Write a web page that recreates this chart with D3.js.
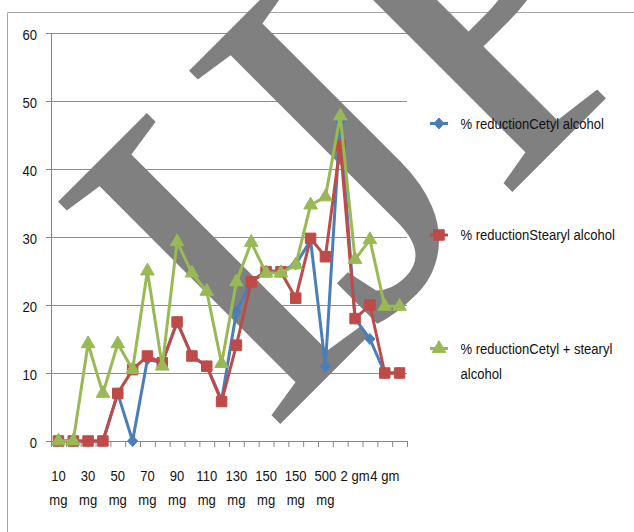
<!DOCTYPE html>
<html>
<head>
<meta charset="utf-8">
<script src="https://cdn.jsdelivr.net/npm/d3@7"></script>
<style>
  html, body { margin: 0; padding: 0; background: #fff; }
  svg { display: block; }
</style>
</head>
<body>
<svg id="chart" width="634" height="532"></svg>
<script>
// Dose categories along the x axis (every other one is labelled)
const doses = ["10 mg", "20 mg", "30 mg", "40 mg", "50 mg", "60 mg", "70 mg", "80 mg",
               "90 mg", "100 mg", "110 mg", "120 mg", "130 mg", "140 mg", "150 mg", "150 mg",
               "150 mg", "250 mg", "500 mg", "1 gm", "2 gm", "3 gm", "4 gm", "5 gm"];

// % reduction per formulation
const cetyl        = [0, 0, 0, 0, 7, 0, 12, 11.5, 17.5, 12.5, 11, 6, 19, 23.5, 25, 25, 26, 29.5, 11, 47, 18, 15, 10, 10];
const stearyl      = [0, 0, 0, 0, 7, 10.5, 12.5, 11.5, 17.5, 12.5, 11, 5.8, 14.1, 23.4, 24.9, 24.9, 21, 29.8, 27.1, 43.5, 18, 20, 10, 10];
const cetylStearyl = [0, 0, 14.3, 7, 14.3, 10.5, 25, 11, 29.3, 24.7, 22, 11.4, 23.4, 29.2, 24.7, 24.7, 25.9, 34.7, 35.9, 47.8, 26.7, 29.6, 19.8, 19.8];

const seriesNames  = ["% reductionCetyl alcohol", "% reductionStearyl alcohol", "% reductionCetyl + stearyl alcohol"];
const seriesColors = ["#4a7ebb", "#be4b48", "#98b954"];
const seriesShapes = ["diamond", "square", "triangle"];

const yTicks = [0, 10, 20, 30, 40, 50, 60];

const W = 634, H = 532;
const FONT = "'Liberation Sans', Arial, sans-serif";
const FS = 14.5;          // label font size
const SQUEEZE = 0.9;      // condensed look of the labels
const plot = { left: 51, right: 407, top: 33, bottom: 441 };

const svg = d3.select("#chart");
svg.append("rect").attr("width", W).attr("height", H).attr("fill", "#fff");

// outer chart frame
svg.append("path")
  .attr("d", `M7.5,${H}V12.5H${W}`)
  .attr("fill", "none").attr("stroke", "#a6a6a6").attr("stroke-width", 1);

const x = d3.scaleBand().domain(d3.range(doses.length)).range([plot.left, plot.right]);
const xEdge = d3.scaleLinear().domain([0, doses.length]).range([plot.left, plot.right]);
const y = d3.scaleLinear().domain([0, 60]).range([plot.bottom, plot.top]);
const cx = i => x(i) + x.bandwidth() / 2;

// horizontal gridlines
svg.append("g").selectAll("line")
  .data(yTicks.filter(v => v > 0))
  .join("line")
  .attr("x1", plot.left).attr("x2", plot.right)
  .attr("y1", d => Math.round(y(d)) + 0.5).attr("y2", d => Math.round(y(d)) + 0.5)
  .attr("stroke", "#8e8e8e").attr("stroke-width", 1);

// y axis
const yAxis = svg.append("g")
  .attr("transform", `translate(${plot.left},0)`)
  .call(d3.axisLeft(y).tickValues(yTicks).tickSize(5).tickSizeOuter(0).tickFormat(d3.format("d")));
yAxis.select(".domain").attr("stroke", "#868686");
yAxis.selectAll(".tick line").attr("stroke", "#868686");
yAxis.selectAll(".tick text")
  .attr("x", 0).attr("dy", "0.42em")
  .attr("transform", `translate(-14,0) scale(${SQUEEZE},1)`)
  .attr("font-family", FONT).attr("font-size", FS).attr("fill", "#111");

// x axis line with tick marks at category boundaries
const xAxis = svg.append("g")
  .attr("transform", `translate(0,${plot.bottom})`)
  .call(d3.axisBottom(xEdge).tickValues(d3.range(doses.length + 1)).tickSize(6).tickSizeOuter(0).tickFormat(""));
xAxis.select(".domain").attr("stroke", "#868686");
xAxis.selectAll(".tick line").attr("stroke", "#868686");

// x labels on every other category, wrapped when wider than two slots
const xLab = svg.append("g").attr("font-family", FONT).attr("font-size", FS).attr("fill", "#111");
doses.forEach((label, i) => {
  if (i % 2) return;
  const g = xLab.append("g").attr("transform", `translate(${cx(i)},481) scale(${SQUEEZE},1)`);
  const probe = g.append("text").attr("text-anchor", "middle").text(label);
  const wide = probe.node().getComputedTextLength() * SQUEEZE > 2 * x.bandwidth();
  if (wide) {
    const words = label.split(" ");
    probe.text(words[0]);
    g.append("text").attr("text-anchor", "middle").attr("y", 24).text(words.slice(1).join(" "));
  }
});

// watermark lettering
svg.append("text")
  .attr("transform", "rotate(-45)")
  .attr("x", -119).attr("y", 498)
  .attr("dx", "0 -13 -5 0")
  .attr("font-family", "'Liberation Serif', 'Times New Roman', serif")
  .attr("font-size", 480)
  .attr("fill", "#808080")
  .text("IJPS");

// marker shapes
function markerPath(shape) {
  if (shape === "diamond") return "M0,-5.5L5,0L0,5.5L-5,0Z";
  if (shape === "square") return d3.symbol(d3.symbolSquare, 110)();
  return d3.symbol(d3.symbolTriangle, 80)();
}

const allSeries = [cetyl, stearyl, cetylStearyl];
const line = d3.line().x((d, i) => cx(i)).y(d => y(d));

allSeries.forEach((vals, k) => {
  const g = svg.append("g");
  g.append("path")
    .attr("d", line(vals))
    .attr("fill", "none")
    .attr("stroke", seriesColors[k])
    .attr("stroke-width", 3)
    .attr("stroke-linejoin", "round");
  g.selectAll("path.m")
    .data(vals)
    .join("path")
    .attr("class", "m")
    .attr("d", markerPath(seriesShapes[k]))
    .attr("transform", (d, i) => `translate(${cx(i)},${y(d)})`)
    .attr("fill", seriesColors[k])
    .attr("stroke", seriesColors[k])
    .attr("stroke-width", 1);
});

// legend
const legendY = [123.5, 235, 348.5];
const legend = svg.append("g");
seriesNames.forEach((name, k) => {
  const g = legend.append("g").attr("transform", `translate(0,${legendY[k]})`);
  g.append("line").attr("x1", 430).attr("x2", 448).attr("y1", 0).attr("y2", 0)
    .attr("stroke", seriesColors[k]).attr("stroke-width", 3);
  g.append("path").attr("d", markerPath(seriesShapes[k]))
    .attr("transform", "translate(439,0)")
    .attr("fill", seriesColors[k]).attr("stroke", seriesColors[k]);

  // word-wrap the label to the space right of the plot
  const tg = g.append("g").attr("transform", `translate(460.5,0) scale(${SQUEEZE},1)`)
    .attr("font-family", FONT).attr("font-size", FS).attr("fill", "#111");
  const maxW = 160 / SQUEEZE;
  const words = name.split(" ");
  let lineIdx = 0;
  let t = tg.append("text").attr("dy", "0.36em");
  let current = [];
  words.forEach(w => {
    current.push(w);
    t.text(current.join(" "));
    if (t.node().getComputedTextLength() > maxW && current.length > 1) {
      current.pop();
      t.text(current.join(" "));
      lineIdx += 1;
      current = [w];
      t = tg.append("text").attr("dy", "0.36em").attr("y", lineIdx * 25).text(w);
    }
  });
});
</script>
</body>
</html>
